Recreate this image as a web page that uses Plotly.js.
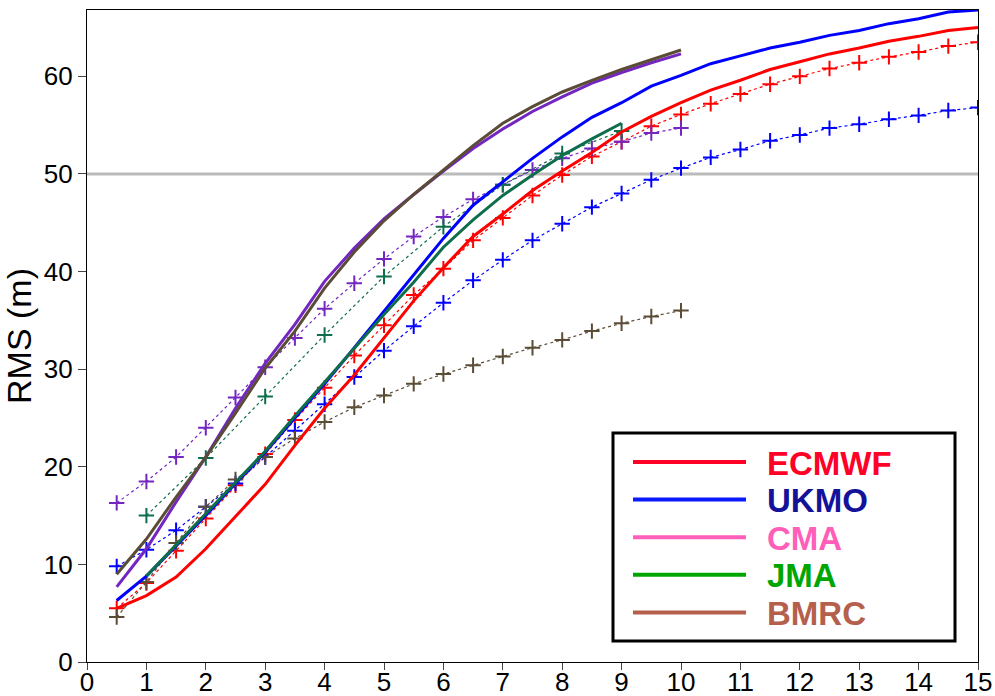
<!DOCTYPE html>
<html>
<head>
<meta charset="utf-8">
<script src="https://cdn.plot.ly/plotly-3.0.1.min.js"></script>
<style>html,body{margin:0;padding:0;background:#fff;}#chart{width:995px;height:696px;}</style>
</head>
<body>
<div id="chart"></div>
<script>
// Forecast lead (days)
const leadFull = [0.5,1,1.5,2,2.5,3,3.5,4,4.5,5,5.5,6,6.5,7,7.5,8,8.5,9,9.5,10,10.5,11,11.5,12,12.5,13,13.5,14,14.5,15];
const leadTen  = [0.5,1,1.5,2,2.5,3,3.5,4,4.5,5,5.5,6,6.5,7,7.5,8,8.5,9,9.5,10];
const leadJmaSolid = [1,1.5,2,2.5,3,3.5,4,4.5,5,5.5,6,6.5,7,7.5,8,8.5,9];
const leadJmaDot = [1,2,3,4,5,6,7,8,9];

// Solid-line series (RMS, m)
const ecmwfSolid = [5.5,6.8,8.7,11.6,14.9,18.2,22.2,26.0,29.4,33.2,37.0,40.4,43.6,45.9,48.3,50.3,52.2,54.3,55.9,57.3,58.6,59.6,60.7,61.5,62.3,62.9,63.6,64.1,64.7,65.0];
const ukmoSolid  = [6.3,8.8,11.9,15.0,18.3,21.5,25.0,28.5,32.2,35.9,39.6,43.4,46.8,49.2,51.6,53.8,55.8,57.3,59.0,60.1,61.3,62.1,62.9,63.5,64.2,64.7,65.4,65.9,66.6,66.8];
const cmaSolid   = [7.7,11.6,16.4,21.0,26.0,30.6,34.6,39.0,42.4,45.4,47.9,50.3,52.6,54.6,56.4,57.9,59.3,60.4,61.4,62.3];
const jmaSolid   = [8.8,12.0,15.2,18.5,21.6,25.2,28.7,32.2,35.6,38.9,42.5,45.3,47.8,49.9,51.9,53.6,55.2];
const bmrcSolid  = [9.0,12.6,16.9,21.0,25.5,30.1,33.9,38.3,42.0,45.2,47.9,50.4,52.9,55.2,56.9,58.4,59.6,60.7,61.7,62.7];

// Dotted series with + markers (RMS, m)
const ecmwfDot = [5.5,8.1,11.4,14.7,18.1,21.3,24.8,28.1,31.4,34.5,37.6,40.3,43.2,45.5,47.8,49.9,51.8,53.3,54.9,56.1,57.2,58.2,59.2,60.0,60.8,61.4,62.0,62.5,63.1,63.5];
const ukmoDot  = [9.8,11.5,13.5,15.9,18.3,21.0,23.7,26.4,29.2,31.9,34.4,36.8,39.1,41.2,43.2,44.9,46.6,48.0,49.4,50.6,51.7,52.5,53.4,54.0,54.7,55.1,55.6,56.0,56.5,56.8];
const cmaDot   = [16.3,18.5,21.0,24.0,27.1,30.2,33.2,36.2,38.8,41.3,43.6,45.6,47.4,48.9,50.4,51.6,52.6,53.3,54.2,54.7];
const jmaDot   = [15.0,20.9,27.2,33.5,39.5,44.6,48.9,52.1,54.4];
const bmrcDot  = [4.6,8.2,12.2,15.9,18.7,21.0,22.9,24.6,26.1,27.3,28.5,29.5,30.4,31.3,32.2,33.0,33.9,34.7,35.4,36.0];

// Legend
const legendNames = ["ECMWF","UKMO","CMA","JMA","BMRC"];
const legendLineColors = ["#ff0026","#0a1aff","#ff5fb8","#00a600","#b5604c"];
const legendTextColors = ["#ff0026","#14129a","#ff5fb8","#00a600","#b5604c"];

const cRed = "#ff0000", cBlue = "#0000ff", cPurple = "#7326c0", cGreen = "#0e6e4c", cBrown = "#5b4c36";

function solid(x, y, c){ return {x:x, y:y, type:"scatter", mode:"lines", line:{color:c, width:3}, showlegend:false, hoverinfo:"skip"}; }
function dotted(x, y, c){ return {x:x, y:y, type:"scatter", mode:"lines+markers", line:{color:c, width:1.2, dash:"dot"},
  marker:{symbol:"cross-thin", size:11, line:{color:c, width:2}}, showlegend:false, hoverinfo:"skip"}; }

const data = [
  dotted(leadFull, ecmwfDot, cRed),
  dotted(leadFull, ukmoDot, cBlue),
  dotted(leadTen, cmaDot, cPurple),
  dotted(leadJmaDot, jmaDot, cGreen),
  dotted(leadTen, bmrcDot, cBrown),
  solid(leadFull, ecmwfSolid, cRed),
  solid(leadTen, cmaSolid, cPurple),
  solid(leadTen, bmrcSolid, cBrown),
  solid(leadFull, ukmoSolid, cBlue),
  solid(leadJmaSolid, jmaSolid, cGreen)
];

// Plot area in pixels: left 87, right 978, top 10, bottom 662
const L = 87, R = 978, T = 10, B = 662;
const px = v => (v - L) / (R - L);
const py = v => (B - v) / (B - T);

const shapes = [
  {type:"line", xref:"paper", yref:"y", x0:0, x1:1, y0:50, y1:50, line:{color:"#bbbbbb", width:3}, layer:"below"},
  {type:"rect", xref:"paper", yref:"paper", x0:px(613), x1:px(955), y0:py(641), y1:py(433), line:{color:"#000", width:3}, fillcolor:"#fff", layer:"above"}
];
const annotations = [];
legendNames.forEach((n, i) => {
  const rowY = 462 + i * 37.6;
  shapes.push({type:"line", xref:"paper", yref:"paper", x0:px(633), x1:px(746), y0:py(rowY), y1:py(rowY), line:{color:legendLineColors[i], width:4}, layer:"above"});
  annotations.push({xref:"paper", yref:"paper", x:px(765), y:py(rowY + 1), xanchor:"left", yanchor:"middle", showarrow:false,
    text:"<b>" + n + "</b>", font:{family:"Liberation Sans, Arial, sans-serif", size:33, color:legendTextColors[i]}});
});

const layout = {
  width:995, height:696,
  margin:{l:L, r:995 - R, t:T, b:696 - B},
  paper_bgcolor:"#fff", plot_bgcolor:"#fff",
  font:{family:"Liberation Sans, Arial, sans-serif", size:26, color:"#000"},
  showlegend:false,
  xaxis:{range:[0,15], tickmode:"linear", tick0:0, dtick:1, showgrid:false, zeroline:false,
    showline:true, mirror:true, linecolor:"#000", linewidth:1.2, ticks:"outside", ticklen:7, tickcolor:"#444",
    tickfont:{size:26}, ticklabelstandoff:-10},
  yaxis:{range:[0,66.8], tickmode:"linear", tick0:0, dtick:10, showgrid:false, zeroline:false,
    showline:true, mirror:true, linecolor:"#000", linewidth:1.2, ticks:"outside", ticklen:8, tickcolor:"#444",
    tickfont:{size:26}, title:{text:"RMS (m)", font:{size:34}, standoff:1}},
  shapes:shapes,
  annotations:annotations
};

Plotly.newPlot("chart", data, layout, {staticPlot:true, displayModeBar:false});
</script>
</body>
</html>
